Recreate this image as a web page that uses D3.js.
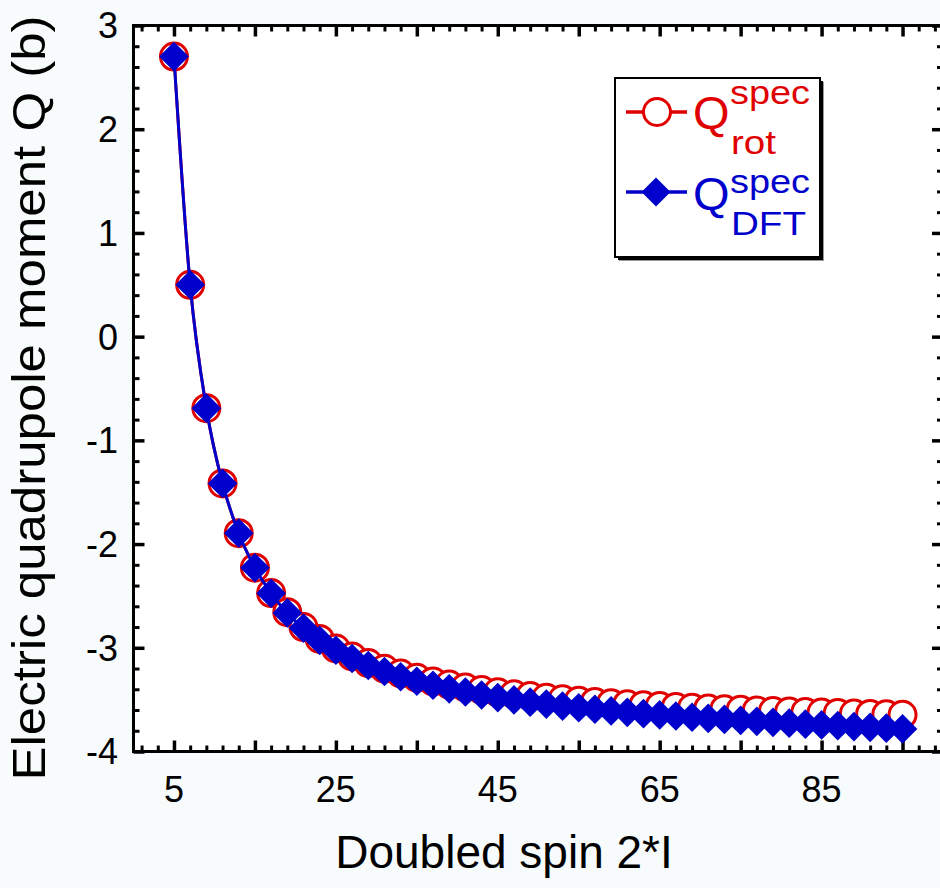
<!DOCTYPE html>
<html>
<head>
<meta charset="utf-8">
<script src="https://cdn.jsdelivr.net/npm/d3@7"></script>
<style>
  html, body { margin: 0; padding: 0; background: #f7fbfc; }
  svg { display: block; }
  text { font-family: "Liberation Sans", Arial, Helvetica, sans-serif; }
</style>
</head>
<body>
<svg id="chart" width="940" height="888"></svg>
<script>
// ---- data ----
const spin2I = [5,7,9,11,13,15,17,19,21,23,25,27,29,31,33,35,37,39,41,43,45,47,49,51,53,55,57,59,61,63,65,67,69,71,73,75,77,79,81,83,85,87,89,91,93,95];
const qRot = [2.700,0.500,-0.690,-1.415,-1.895,-2.228,-2.472,-2.657,-2.800,-2.915,-3.007,-3.083,-3.147,-3.202,-3.248,-3.289,-3.324,-3.355,-3.382,-3.407,-3.429,-3.449,-3.466,-3.482,-3.497,-3.510,-3.522,-3.534,-3.544,-3.553,-3.562,-3.570,-3.578,-3.585,-3.592,-3.598,-3.604,-3.610,-3.615,-3.620,-3.625,-3.629,-3.634,-3.638,-3.642,-3.646];
const qDFT = [2.700,0.500,-0.690,-1.415,-1.895,-2.228,-2.475,-2.664,-2.810,-2.929,-3.024,-3.103,-3.171,-3.229,-3.279,-3.323,-3.361,-3.396,-3.426,-3.455,-3.480,-3.503,-3.524,-3.543,-3.562,-3.578,-3.593,-3.609,-3.622,-3.635,-3.647,-3.658,-3.670,-3.680,-3.691,-3.700,-3.709,-3.719,-3.727,-3.736,-3.744,-3.751,-3.760,-3.767,-3.775,-3.782];
const xTickLabels = [5,25,45,65,85];
const yTickLabels = [3,2,1,0,-1,-2,-3,-4];
const seriesNames = ["rot","DFT"];

// ---- layout ----
const svg = d3.select("#chart");
const x = d3.scaleLinear().domain([0,100]).range([133.5, 943]);
const y = d3.scaleLinear().domain([-4,3]).range([751.5, 25.5]);
const RED = "#e00000", BLUE = "#0000cc";

// plot background
svg.append("rect").attr("x", x(0)).attr("y", y(3)).attr("width", x(100)-x(0)).attr("height", y(-4)-y(3)).attr("fill", "#fff");

svg.append("clipPath").attr("id","clip").append("rect")
  .attr("x", x(0)).attr("y", y(3)).attr("width", x(100)-x(0)).attr("height", y(-4)-y(3));

// ticks (inward, all four sides)
const xMajor = d3.range(5, 100, 10), xMinor = d3.range(1, 100, 2).filter(v => (v-5) % 10 !== 0);
const yMajor = d3.range(-4, 3.001, 1), yMinor = d3.range(-4, 3.001, 0.2).filter(v => Math.abs(v - Math.round(v)) > 1e-6);
function ticks(axis, vals, size, sw, transform) {
  const g = svg.append("g").attr("transform", transform)
    .call(axis.tickValues(vals).tickSize(-size).tickFormat(""));
  g.select(".domain").remove();
  g.selectAll("line").attr("stroke", "#000").attr("stroke-width", sw);
}
ticks(d3.axisBottom(x), xMajor, 11, 3.5, `translate(0,${y(-4)})`);
ticks(d3.axisBottom(x), xMinor, 6, 3, `translate(0,${y(-4)})`);
ticks(d3.axisTop(x), xMajor, 11, 3.5, `translate(0,${y(3)})`);
ticks(d3.axisTop(x), xMinor, 6, 3, `translate(0,${y(3)})`);
ticks(d3.axisLeft(y), yMajor, 11, 3.5, `translate(${x(0)},0)`);
ticks(d3.axisLeft(y), yMinor, 6, 3, `translate(${x(0)},0)`);
ticks(d3.axisRight(y), yMajor, 11, 3.5, `translate(${x(100)},0)`);
ticks(d3.axisRight(y), yMinor, 6, 3, `translate(${x(100)},0)`);

// frame
svg.append("rect").attr("x", x(0)).attr("y", y(3)).attr("width", x(100)-x(0)).attr("height", y(-4)-y(3))
  .attr("fill", "none").attr("stroke", "#000").attr("stroke-width", 3);

// tick labels
svg.append("g").selectAll("text").data(xTickLabels).join("text")
  .attr("x", d => x(d)).attr("y", 802).attr("text-anchor", "middle")
  .attr("font-size", 36).attr("fill", "#000").text(d => d);
svg.append("g").selectAll("text").data(yTickLabels).join("text")
  .attr("x", 118).attr("y", d => y(d)).attr("dy", "0.36em").attr("text-anchor", "end")
  .attr("font-size", 36).attr("fill", "#000").text(d => d);

// axis titles
svg.append("text").attr("x", 504).attr("y", 868).attr("text-anchor", "middle")
  .attr("font-size", 46).attr("fill", "#000").text("Doubled spin 2*I");
svg.append("text").attr("transform", `translate(45,398) rotate(-90)`)
  .attr("text-anchor", "middle").attr("font-size", 46).attr("fill", "#000")
  .attr("textLength", 765).attr("lengthAdjust", "spacingAndGlyphs")
  .text("Electric quadrupole moment Q (b)");

// data
const rotPts = spin2I.map((n,i) => [n, qRot[i]]);
const dftPts = spin2I.map((n,i) => [n, qDFT[i]]);
const line = d3.line().x(d => x(d[0])).y(d => y(d[1])).curve(d3.curveMonotoneX);
const plot = svg.append("g").attr("clip-path", "url(#clip)");
plot.append("path").datum(rotPts).attr("d", line).attr("fill","none").attr("stroke", RED).attr("stroke-width", 3);
plot.append("g").selectAll("circle").data(rotPts).join("circle")
  .attr("cx", d => x(d[0])).attr("cy", d => y(d[1])).attr("r", 13.5)
  .attr("fill", "#fff").attr("stroke", RED).attr("stroke-width", 3);
plot.append("path").datum(dftPts).attr("d", line).attr("fill","none").attr("stroke", BLUE).attr("stroke-width", 3);
const sq = d3.symbol().type(d3.symbolSquare).size(440);
plot.append("g").selectAll("path").data(dftPts).join("path")
  .attr("transform", d => `translate(${x(d[0])},${y(d[1])}) rotate(45)`)
  .attr("d", sq).attr("fill", BLUE);

// legend
const lg = svg.append("g");
lg.append("rect").attr("x", 619).attr("y", 82).attr("width", 205).attr("height", 179).attr("fill", "#999");
lg.append("rect").attr("x", 618).attr("y", 81).attr("width", 205).attr("height", 179).attr("fill", "#000");
lg.append("rect").attr("x", 615).attr("y", 78).attr("width", 205).attr("height", 179).attr("fill", "#fff").attr("stroke", "#000").attr("stroke-width", 2);
// red entry
lg.append("line").attr("x1", 626).attr("x2", 687).attr("y1", 112).attr("y2", 112).attr("stroke", RED).attr("stroke-width", 3.5);
lg.append("circle").attr("cx", 657).attr("cy", 112).attr("r", 13.5).attr("fill", "#fff").attr("stroke", RED).attr("stroke-width", 3);
lg.append("text").attr("x", 693).attr("y", 129).attr("font-size", 47).attr("fill", RED).text("Q");
lg.append("text").attr("x", 730).attr("y", 104).attr("font-size", 34).attr("fill", RED)
  .attr("textLength", 80).attr("lengthAdjust", "spacingAndGlyphs").text("spec");
lg.append("text").attr("x", 731).attr("y", 154).attr("font-size", 34).attr("fill", RED)
  .attr("textLength", 45).attr("lengthAdjust", "spacingAndGlyphs").text(seriesNames[0]);
// blue entry
lg.append("line").attr("x1", 626).attr("x2", 687).attr("y1", 192).attr("y2", 192).attr("stroke", BLUE).attr("stroke-width", 3.5);
lg.append("path").attr("transform", "translate(656,192) rotate(45)").attr("d", d3.symbol().type(d3.symbolSquare).size(420)).attr("fill", BLUE);
lg.append("text").attr("x", 693).attr("y", 210).attr("font-size", 47).attr("fill", BLUE).text("Q");
lg.append("text").attr("x", 730).attr("y", 193).attr("font-size", 34).attr("fill", BLUE)
  .attr("textLength", 80).attr("lengthAdjust", "spacingAndGlyphs").text("spec");
lg.append("text").attr("x", 731).attr("y", 235).attr("font-size", 34).attr("fill", BLUE)
  .attr("textLength", 75).attr("lengthAdjust", "spacingAndGlyphs").text(seriesNames[1]);
</script>
</body>
</html>
